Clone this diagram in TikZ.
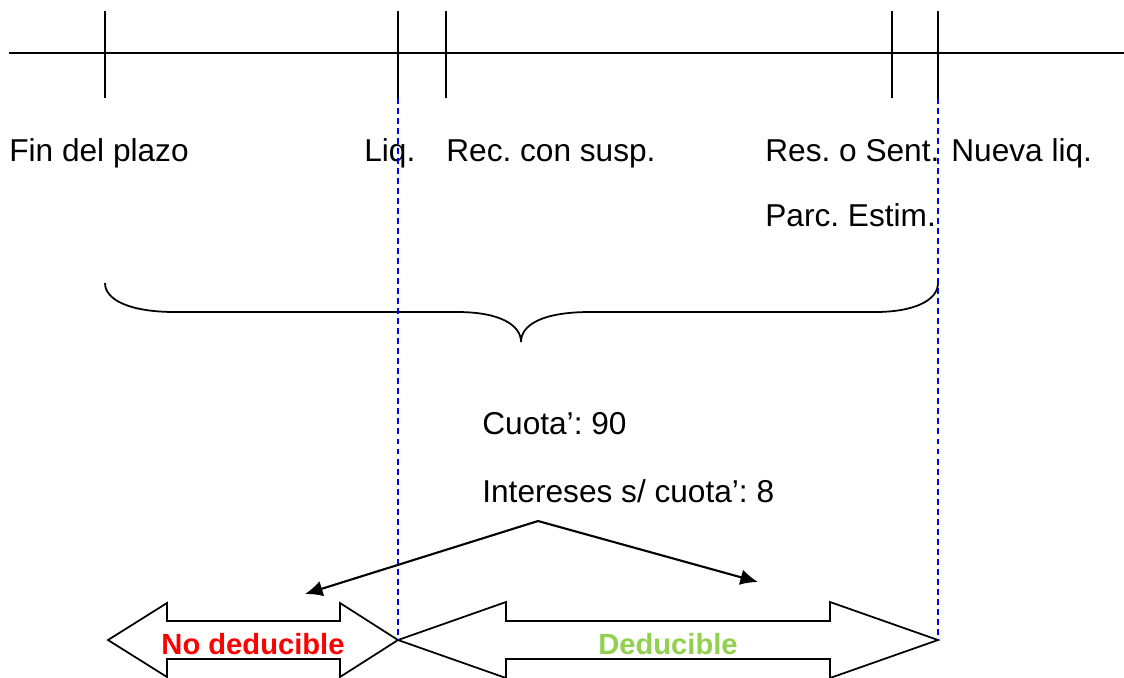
\documentclass[tikz,border=0pt]{standalone}
\usepackage{fontspec}
\setmainfont{Liberation Sans}
\usetikzlibrary{calc,arrows.meta}
\definecolor{okgreen}{RGB}{146,208,80}
\frenchspacing
\tikzset{
  tick/.style={line width=1pt},
  guide/.style={blue, line width=0.7pt, dash pattern=on 3.4pt off 2.3pt},
  lbl/.style={anchor=base west, inner sep=0pt, font=\fontsize{18}{22}\selectfont},
  boldlbl/.style={anchor=base, inner sep=0pt, font=\fontsize{16.6}{20}\selectfont\bfseries},
  bigarrow/.style={line width=1pt, fill=white},
  pointer/.style={line width=1.2pt, -{Latex[length=10pt,width=9pt]}},
}
\begin{document}
\begin{tikzpicture}[x=0.02cm, y=-0.02cm, line join=miter]
\useasboundingbox (0,0) rectangle (1124,677);
% time line with its marks
\coordinate (start) at (9,53);
\coordinate (end) at (1124,53);
\draw[tick] (start) -- (end);
\foreach \n/\x in {fin/105, liq/398, rec/446, res/892, nue/938}{
  \coordinate (\n top) at (\x,11);
  \coordinate (\n) at (\x,98);
  \draw[tick] (\n top) -- (\n);
}
% labels
\node[lbl] (tfin) at (9,161) {Fin del plazo};
\node[lbl] (tliq) at (364,161) {Liq.};
\node[lbl] (trec) at (446,161) {Rec. con susp.};
\node[lbl] (tres) at (765,161) {Res. o Sent.};
\node[lbl] (tnue) at (951,161) {Nueva liq.};
\node[lbl] (tparc) at (765,226) {Parc. Estim.};
% brace
\draw[line width=1pt] (105,283) .. controls (105,300) and (130,312) .. (175,312) -- (457,312)
  .. controls (500,312) and (521,325) .. (521,342)
  .. controls (521,325) and (542,312) .. (590,312) -- (875,312)
  .. controls (915,312) and (938,300) .. (938,283);
\node[lbl] (cuota) at (482,434) {Cuota’: 90};
\node[lbl] (inter) at (482,502) {Intereses s/ cuota’: 8};
% double arrows
\draw[bigarrow] (108,640) -- (167,603) -- (167,621) -- (340,621) -- (340,603) -- (398,640)
  -- (340,677) -- (340,659) -- (167,659) -- (167,677) -- cycle;
\draw[bigarrow] (398,640) -- (506,602) -- (506,621) -- (830,621) -- (830,602) -- (938,640)
  -- (830,678) -- (830,659) -- (506,659) -- (506,678) -- cycle;
\node[boldlbl, text=red] (nod) at (253,654) {No deducible};
\node[boldlbl, text=okgreen] (ded) at (668,654) {Deducible};
% guides
\coordinate (liqbot) at (398,640);
\coordinate (nuebot) at (938,640);
\draw[guide] (liq) -- (liqbot);
\draw[guide] (nue) -- (nuebot);
% pointers
\coordinate (split) at (538,521);
\coordinate (left) at (305,594);
\coordinate (right) at (758,582);
\draw[pointer] (split) -- (left);
\draw[pointer] (split) -- (right);
\end{tikzpicture}
\end{document}
